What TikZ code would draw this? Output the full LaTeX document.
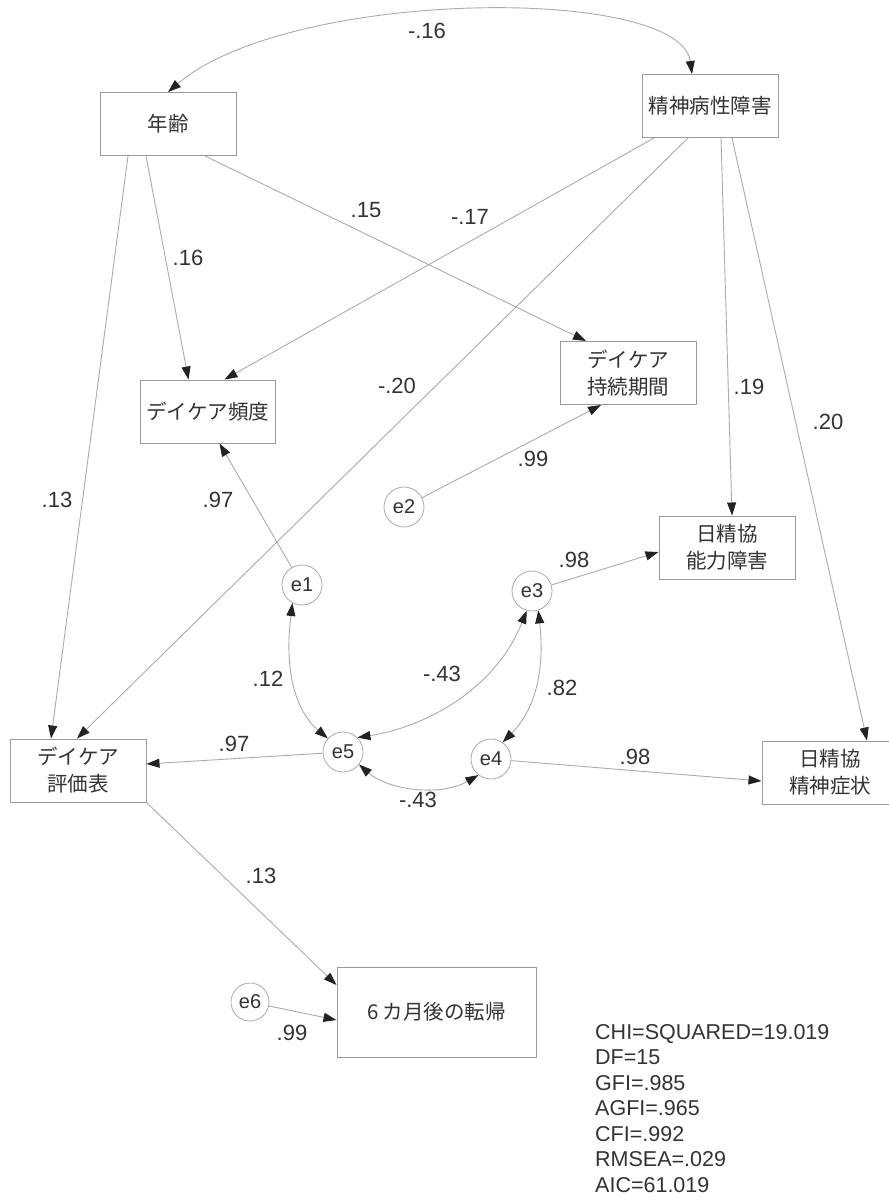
\documentclass[tikz,border=0pt]{standalone}
\usepackage{fontspec}
\setmainfont{Liberation Sans}
\newfontfamily\jp{Noto Sans CJK JP}
\usetikzlibrary{arrows.meta,calc}
\definecolor{ln}{HTML}{ABABAB}
\definecolor{bx}{HTML}{9A9A9A}
\definecolor{tx}{HTML}{333333}
\definecolor{ah}{HTML}{222222}
\begin{document}
\begin{tikzpicture}[x=1pt,y=-1pt,
  box/.style={draw=bx, line width=1pt, minimum width=136pt, minimum height=63pt, inner sep=0pt, align=center, text=tx, font=\jp\fontsize{20.5}{27}\selectfont},
  err/.style={circle, draw=ln, line width=0.8pt, minimum size=40pt, inner sep=0pt, text=tx, font=\fontsize{20}{22}\selectfont},
  tipa/.tip={Triangle[length=13pt,width=9pt,color=ah,fill=ah]},
  path/.style={draw=ln, line width=0.9pt, -tipa},
  dpath/.style={draw=ln, line width=0.9pt, tipa-tipa},
  lab/.style={text=tx, font=\fontsize{22}{24}\selectfont, inner sep=0pt},
]
\fill[white] (0,0) rectangle (889,1197);
\useasboundingbox (0,0) rectangle (889,1197);

% observed variables
\node[box] (nen) at (168,124) {年齢};
\node[box] (sei) at (710,106) {精神病性障害};
\node[box, minimum width=135pt] (hin) at (207.5,411.5) {デイケア頻度};
\node[box] (jiz) at (628,373) {デイケア\\持続期間};
\node[box] (nou) at (727,547.5) {日精協\\能力障害};
\node[box] (hyo) at (78,770.5) {デイケア\\評価表};
\node[box] (sho) at (830,772.5) {日精協\\精神症状};
\node[box, minimum width=199pt, minimum height=90pt] (ten) at (436.5,1012) {6 カ月後の転帰};

% error variables
\node[err] (e1) at (302,585) {e1};
\node[err] (e2) at (404,507) {e2};
\node[err] (e3) at (532,591) {e3};
\node[err] (e4) at (491,759) {e4};
\node[err] (e5) at (343,752) {e5};
\node[err, minimum size=38pt] (e6) at (250,1002) {e6};

% covariance between exogenous variables
\draw[dpath] (nen.north) .. controls (290,-12) and (680,-15) .. ($(sei.north)+(-18,0)$);

% paths from 年齢
\draw[path] ($(nen.south)+(-40,0)$) -- ($(hyo.north)+(-27,0)$);
\draw[path] ($(nen.south)+(-22,0)$) -- ($(hin.north)+(-19,0)$);
\draw[path] ($(nen.south)+(37,0)$) -- ($(jiz.north)+(-42,0)$);

% paths from 精神病性障害
\draw[path] ($(sei.south)+(-56,0)$) -- ($(hin.north)+(17,0)$);
\draw[path] ($(sei.south)+(-22,0)$) -- ($(hyo.north)+(-1,0)$);
\draw[path] ($(sei.south)+(11,0)$) -- ($(nou.north)+(5,0)$);
\draw[path] ($(sei.south)+(22,0)$) -- ($(sho.north)+(37,0)$);

% error paths
\draw[path] (e1) -- ($(hin.south)+(12,0)$);
\draw[path] (e2) -- ($(jiz.south)+(-27,0)$);
\draw[path] (e3) -- ($(nou.west)+(0,4.5)$);
\draw[path] (e5) -- ($(hyo.east)+(0,-6.5)$);
\draw[path] (e4) -- ($(sho.west)+(0,8.5)$);
\draw[path] (hyo.south east) -- ($(ten.west)+(0,-27)$);
\draw[path] (e6) -- ($(ten.west)+(0,8)$);

% error covariances
\draw[dpath] (e1.-118) .. controls (283,680) and (300,715) .. (e5.138);
\draw[dpath] (e3.-105) .. controls (495,690) and (425,727) .. (e5.45);
\draw[dpath] (e3.-72) .. controls (546,680) and (530,715) .. (e4.55);
\draw[dpath] (e5.-38) .. controls (388,790) and (440,797) .. (e4.-128);

% labels
\node[lab] (l1) at (427,31) {-.16};
\node[lab] (l2) at (366,210) {.15};
\node[lab] (l3) at (470,217) {-.17};
\node[lab] (l4) at (188,258) {.16};
\node[lab] (l5) at (397,386) {-.20};
\node[lab] (l6) at (749,387) {.19};
\node[lab] (l7) at (828,422) {.20};
\node[lab] (l8) at (57,500) {.13};
\node[lab] (l9) at (218,500) {.97};
\node[lab] (l10) at (533,459) {.99};
\node[lab] (l11) at (574,560) {.98};
\node[lab] (l12) at (268,679) {.12};
\node[lab] (l13) at (442,674) {-.43};
\node[lab] (l14) at (562,688) {.82};
\node[lab] (l15) at (234,744) {.97};
\node[lab] (l16) at (635,757) {.98};
\node[lab] (l17) at (418,800) {-.43};
\node[lab] (l18) at (261,876) {.13};
\node[lab] (l19) at (292,1033) {.99};

% fit statistics
\node[anchor=north west, align=left, inner sep=0pt, text=tx, font=\fontsize{21.5}{25.5}\selectfont] (stats) at (595,1024)
  {CHI=SQUARED=19.019\\DF=15\\GFI=.985\\AGFI=.965\\CFI=.992\\RMSEA=.029\\AIC=61.019};
\end{tikzpicture}
\end{document}
